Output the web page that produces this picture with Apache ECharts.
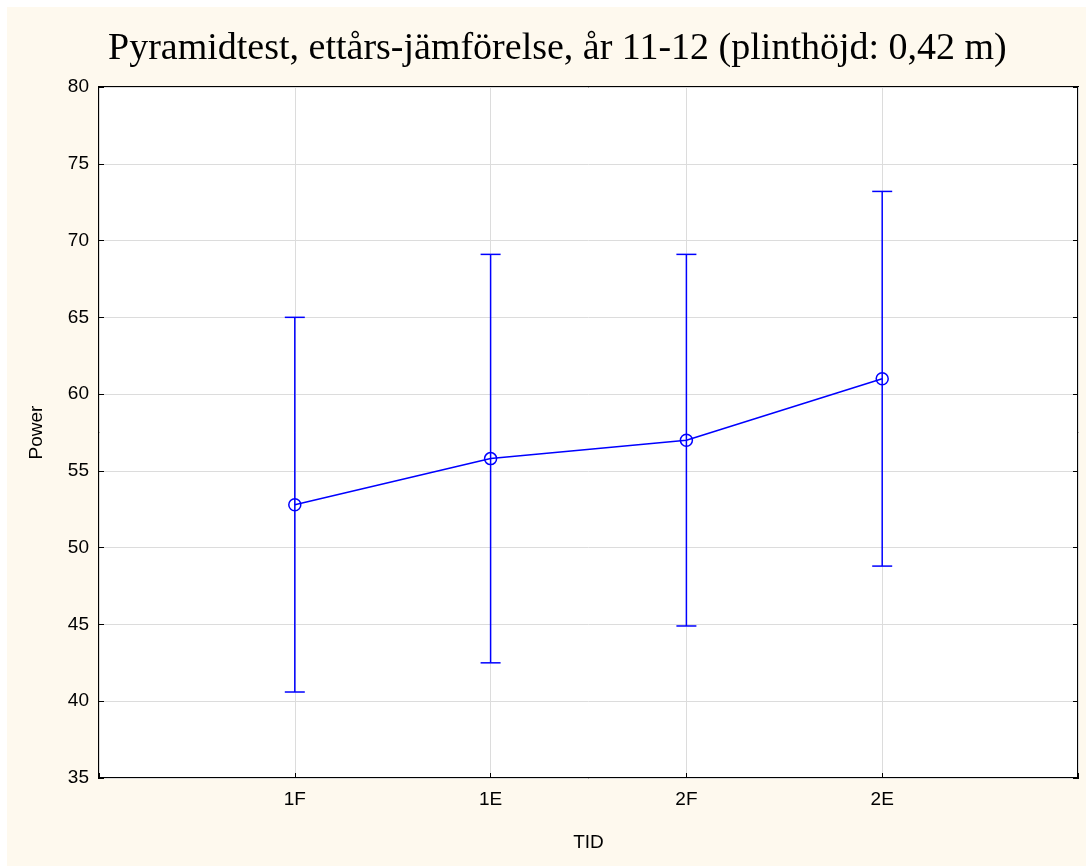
<!DOCTYPE html>
<html>
<head>
<meta charset="utf-8">
<script src="https://cdn.jsdelivr.net/npm/echarts@6/dist/echarts.min.js"></script>
<style>
  html, body { margin: 0; padding: 0; background: #ffffff; }
  #chart { width: 1088px; height: 866px; }
</style>
</head>
<body>
<div id="chart"></div>
<script>
// Time points (TID) and power values per time point
const timePoints = ['1F', '1E', '2F', '2E'];
const meanPower = [52.8, 55.8, 57.0, 61.0];
const lowerPower = [40.6, 42.5, 44.9, 48.8];
const upperPower = [65.0, 69.1, 69.1, 73.2];
const yTicks = [35, 40, 45, 50, 55, 60, 65, 70, 75, 80];

// Axis slots: an empty slot on each side leaves room left and right of the points
const axisCategories = [''].concat(timePoints, ['']);

const BLUE = '#0000ff';

const chart = echarts.init(document.getElementById('chart'), null, { renderer: 'canvas' });

const errorData = timePoints.map((t, i) => [t, lowerPower[i], upperPower[i]]);
const meanData = timePoints.map((t, i) => [t, meanPower[i]]);

function renderErrorBar(params, api) {
  const x = api.value(0);
  const lo = api.coord([x, api.value(1)]);
  const hi = api.coord([x, api.value(2)]);
  const cap = 10;
  const style = { stroke: BLUE, lineWidth: 1.5, fill: null };
  return {
    type: 'group',
    children: [
      { type: 'line', shape: { x1: lo[0], y1: lo[1], x2: hi[0], y2: hi[1] }, style },
      { type: 'line', shape: { x1: hi[0] - cap, y1: hi[1], x2: hi[0] + cap, y2: hi[1] }, style },
      { type: 'line', shape: { x1: lo[0] - cap, y1: lo[1], x2: lo[0] + cap, y2: lo[1] }, style }
    ]
  };
}

const labelFont = { fontFamily: 'Liberation Sans, Arial, sans-serif', fontSize: 19, color: '#000' };

const option = {
  animation: false,
  backgroundColor: '#ffffff',
  graphic: [{
    type: 'rect',
    z: -10,
    shape: { x: 7, y: 7, width: 1079, height: 859 },
    style: { fill: '#fef9ee' }
  }],
  title: {
    text: 'Pyramidtest, ettårs-jämförelse, år 11-12 (plinthöjd: 0,42 m)',
    left: 103,
    top: 25,
    textStyle: {
      fontFamily: 'Liberation Serif, Times New Roman, serif',
      fontSize: 38,
      fontWeight: 'normal',
      color: '#000'
    }
  },
  grid: {
    left: 99, right: 10, top: 87, bottom: 88,
    show: true,
    backgroundColor: '#ffffff',
    borderColor: '#000',
    borderWidth: 2
  },
  xAxis: [{
    type: 'category',
    data: axisCategories,
    boundaryGap: false,
    name: 'TID',
    nameLocation: 'middle',
    nameGap: 55,
    nameTextStyle: labelFont,
    axisLine: { show: false },
    axisTick: { show: true, inside: true, length: 5, lineStyle: { color: '#000', width: 1 } },
    axisLabel: Object.assign({ margin: 12 }, labelFont),
    splitLine: { show: true, lineStyle: { color: '#dcdcdc', width: 1 } }
  }],
  yAxis: [{
    type: 'value',
    min: 35, max: 80, interval: 5,
    name: 'Power',
    nameLocation: 'middle',
    nameGap: 53,
    nameTextStyle: labelFont,
    axisLine: { show: false },
    axisTick: { show: true, inside: true, length: 5, lineStyle: { color: '#000', width: 1 } },
    axisLabel: Object.assign({
      margin: 10,
      formatter: v => (yTicks.indexOf(v) >= 0 ? String(v) : '')
    }, labelFont),
    splitLine: { show: true, lineStyle: { color: '#dcdcdc', width: 1 } }
  }, {
    type: 'value',
    position: 'right',
    min: 35, max: 80, interval: 5,
    axisLine: { show: false },
    axisTick: { show: true, inside: true, length: 5, lineStyle: { color: '#000', width: 1 } },
    axisLabel: { show: false },
    splitLine: { show: false }
  }],
  series: [{
    type: 'custom',
    renderItem: renderErrorBar,
    data: errorData,
    encode: { x: 0, y: [1, 2] },
    z: 2
  }, {
    type: 'line',
    data: meanData,
    symbol: 'circle',
    symbolSize: 12,
    lineStyle: { color: BLUE, width: 1.5 },
    itemStyle: { color: 'rgba(0,0,0,0)', borderColor: BLUE, borderWidth: 1.5 },
    z: 3
  }]
};

chart.setOption(option);
</script>
</body>
</html>
